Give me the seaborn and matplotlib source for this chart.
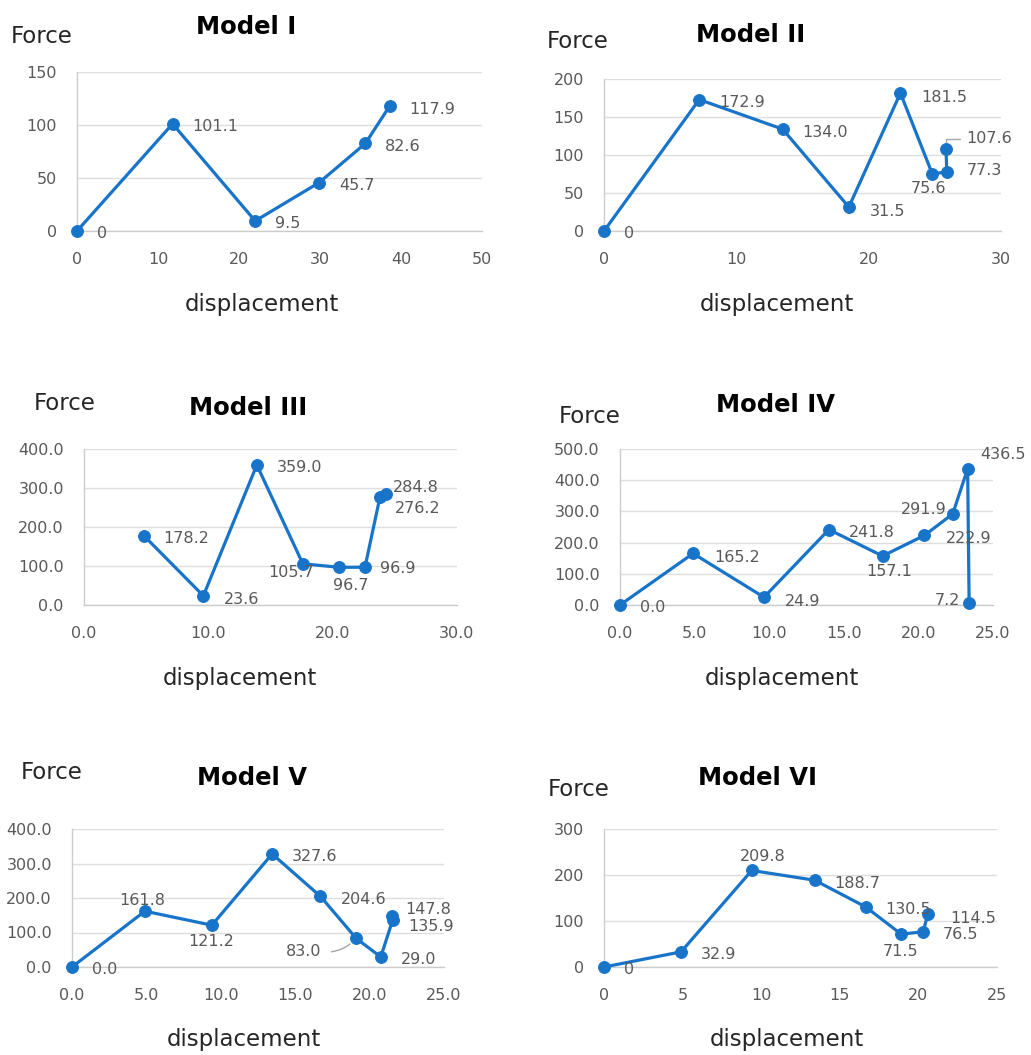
import matplotlib
matplotlib.use("Agg")
import matplotlib.pyplot as plt
import matplotlib.ticker as mticker
import seaborn as sns
import pandas as pd

# ---- data -------------------------------------------------------------
titles = ["Model I", "Model II", "Model III", "Model IV", "Model V", "Model VI"]

disp_1 = [0.0, 11.8, 22.0, 29.9, 35.6, 38.6]
force_1 = [0.0, 101.1, 9.5, 45.7, 82.6, 117.9]
text_1 = ["0", "101.1", "9.5", "45.7", "82.6", "117.9"]

disp_2 = [0.0, 7.2, 13.5, 18.5, 22.4, 24.8, 25.9, 25.85]
force_2 = [0.0, 172.9, 134.0, 31.5, 181.5, 75.6, 77.3, 107.6]
text_2 = ["0", "172.9", "134.0", "31.5", "181.5", "75.6", "77.3", "107.6"]

disp_3 = [4.8, 9.6, 13.9, 17.6, 20.5, 22.6, 23.8, 24.3]
force_3 = [178.2, 23.6, 359.0, 105.7, 96.7, 96.9, 276.2, 284.8]
text_3 = ["178.2", "23.6", "359.0", "105.7", "96.7", "96.9", "276.2", "284.8"]

disp_4 = [0.0, 4.9, 9.65, 14.0, 17.6, 20.4, 22.3, 23.3, 23.4]
force_4 = [0.0, 165.2, 24.9, 241.8, 157.1, 222.9, 291.9, 436.5, 7.2]
text_4 = ["0.0", "165.2", "24.9", "241.8", "157.1", "222.9", "291.9", "436.5", "7.2"]

disp_5 = [0.0, 4.9, 9.4, 13.45, 16.7, 19.1, 20.75, 21.55, 21.5]
force_5 = [0.0, 161.8, 121.2, 327.6, 204.6, 83.0, 29.0, 135.9, 147.8]
text_5 = ["0.0", "161.8", "121.2", "327.6", "204.6", "83.0", "29.0", "135.9", "147.8"]

disp_6 = [0.0, 4.9, 9.4, 13.4, 16.65, 18.9, 20.3, 20.6]
force_6 = [0.0, 32.9, 209.8, 188.7, 130.5, 71.5, 76.5, 114.5]
text_6 = ["0", "32.9", "209.8", "188.7", "130.5", "71.5", "76.5", "114.5"]

x_ticks = [[0, 10, 20, 30, 40, 50], [0, 10, 20, 30], [0, 10, 20, 30],
           [0, 5, 10, 15, 20, 25], [0, 5, 10, 15, 20, 25], [0, 5, 10, 15, 20, 25]]
y_ticks = [[0, 50, 100, 150], [0, 50, 100, 150, 200], [0, 100, 200, 300, 400],
           [0, 100, 200, 300, 400, 500], [0, 100, 200, 300, 400], [0, 100, 200, 300]]
one_decimal = [False, False, True, True, True, False]

series = [(disp_1, force_1, text_1), (disp_2, force_2, text_2), (disp_3, force_3, text_3),
          (disp_4, force_4, text_4), (disp_5, force_5, text_5), (disp_6, force_6, text_6)]

# ---- layout (pixels on a 1031 x 1055 canvas) --------------------------
W, H = 1031, 1055
# plot area: left, top, right, bottom
boxes = [(77, 72, 482, 231), (604, 79, 1001, 231),
         (84, 449, 457, 605), (620, 449, 993, 605),
         (72, 829, 444, 967), (604, 829, 997, 967)]
# (title x, title baseline), (force x, force baseline), (displacement x, baseline)
title_pos = [(246, 34), (751, 42), (248, 415), (775, 412), (252, 785), (758, 785)]
force_pos = [(11, 43), (547, 48), (34, 410), (559, 423), (21, 779), (548, 796)]
xlab_pos = [(262, 311), (777, 311), (240, 685), (782, 685), (244, 1046), (787, 1046)]

# label placement: (ha, dx px, dy px downward, leader)
D = ("left", 20, 1.5, None)
placements = [
    [D, D, D, D, D, D],
    [D, D, D, ("left", 21, 2.5, None), ("left", 21, 2.5, None), ("center", -4, 13, None),
     ("left", 20, -3, None), ("left", 20, -12, "angle")],
    [D, ("left", 21, 2, None), D, ("center", -12, 7, None), ("center", 12, 17, None),
     ("left", 15, 0, None), ("left", 15, 10, None), ("left", 7, -8, None)],
    [D, ("left", 21, 3, None), ("left", 21, 2.5, None), D, ("center", 7, 14, None),
     ("left", 22, 2, None), ("right", -6, -6, None), ("left", 13, -16, None),
     ("right", -9, -4, None)],
    [D, ("center", -3, -12, None), ("center", -1, 15, None), D, D,
     ("right", -35, 12, "arc"), D, ("left", 16, 5, None), ("left", 13, -8, None)],
    [D, D, ("center", 11, -15, None), D, D, ("center", -1, 16, None), D,
     ("left", 22, 2.5, None)],
]

BLUE = "#1874c9"
GRAY_TXT = "#595959"
GRID = "#dedede"
AXIS = "#cccccc"

sns.set_theme(style="white")
plt.rcParams["font.family"] = ["DejaVu Sans"]

fig = plt.figure(figsize=(W / 100, H / 100), dpi=100)
fig.patch.set_facecolor("white")

for i, (xs, ys, labels) in enumerate(series):
    l, t, r, b = boxes[i]
    ax = fig.add_axes([l / W, 1 - b / H, (r - l) / W, (b - t) / H])
    df = pd.DataFrame({"displacement": xs, "force": ys})
    sns.lineplot(data=df, x="displacement", y="force", sort=False, estimator=None,
                 color=BLUE, lw=2.3, marker="o", markersize=8.5,
                 markeredgecolor=BLUE, markerfacecolor=BLUE, ax=ax, zorder=3)
    for ln in ax.lines:
        ln.set_clip_on(False)

    ax.set_xlim(x_ticks[i][0], x_ticks[i][-1])
    ax.set_ylim(y_ticks[i][0], y_ticks[i][-1])
    ax.set_xticks(x_ticks[i])
    ax.set_yticks(y_ticks[i])
    if one_decimal[i]:
        ax.xaxis.set_major_formatter(mticker.FormatStrFormatter("%.1f"))
        ax.yaxis.set_major_formatter(mticker.FormatStrFormatter("%.1f"))
    ax.tick_params(axis="both", length=0, labelsize=11.5, labelcolor=GRAY_TXT)
    ax.tick_params(axis="x", pad=15)
    ax.tick_params(axis="y", pad=14.5)
    ax.set_xlabel("")
    ax.set_ylabel("")
    ax.grid(axis="y", color=GRID, lw=1.0)
    ax.grid(axis="x", visible=False)
    ax.set_axisbelow(True)
    for s in ("top", "right"):
        ax.spines[s].set_visible(False)
    for s in ("left", "bottom"):
        ax.spines[s].set_color(AXIS)
        ax.spines[s].set_linewidth(1.0)

    for j, (x, y, txt) in enumerate(zip(xs, ys, labels)):
        ha, dx, dy, leader = placements[i][j]
        kw = {}
        if leader == "angle":
            kw["arrowprops"] = dict(arrowstyle="-", color="#a6a6a6", lw=1.0,
                                    connectionstyle="angle,angleA=0,angleB=90,rad=0",
                                    relpos=(0, 0.5), shrinkA=2, shrinkB=5)
        elif leader == "arc":
            kw["arrowprops"] = dict(arrowstyle="-", color="#a6a6a6", lw=1.0,
                                    connectionstyle="arc3,rad=0.25",
                                    relpos=(1, 0.5), shrinkA=5, shrinkB=6)
        ax.annotate(txt, xy=(x, y), xytext=(dx, -dy), textcoords="offset pixels",
                    ha=ha, va="center_baseline", fontsize=11.5, color=GRAY_TXT,
                    annotation_clip=False, zorder=4, **kw)

    tx, ty = title_pos[i]
    fig.text(tx / W, 1 - ty / H, titles[i], ha="center", va="baseline",
             fontsize=17.5, fontweight="bold", color="black")
    fx, fy = force_pos[i]
    fig.text(fx / W, 1 - fy / H, "Force", ha="left", va="baseline",
             fontsize=16.5, color="#262626")
    dx_, dy_ = xlab_pos[i]
    fig.text(dx_ / W, 1 - dy_ / H, "displacement", ha="center", va="baseline",
             fontsize=16.5, color="#262626")

fig.savefig("out.png", dpi=100, facecolor="white")
